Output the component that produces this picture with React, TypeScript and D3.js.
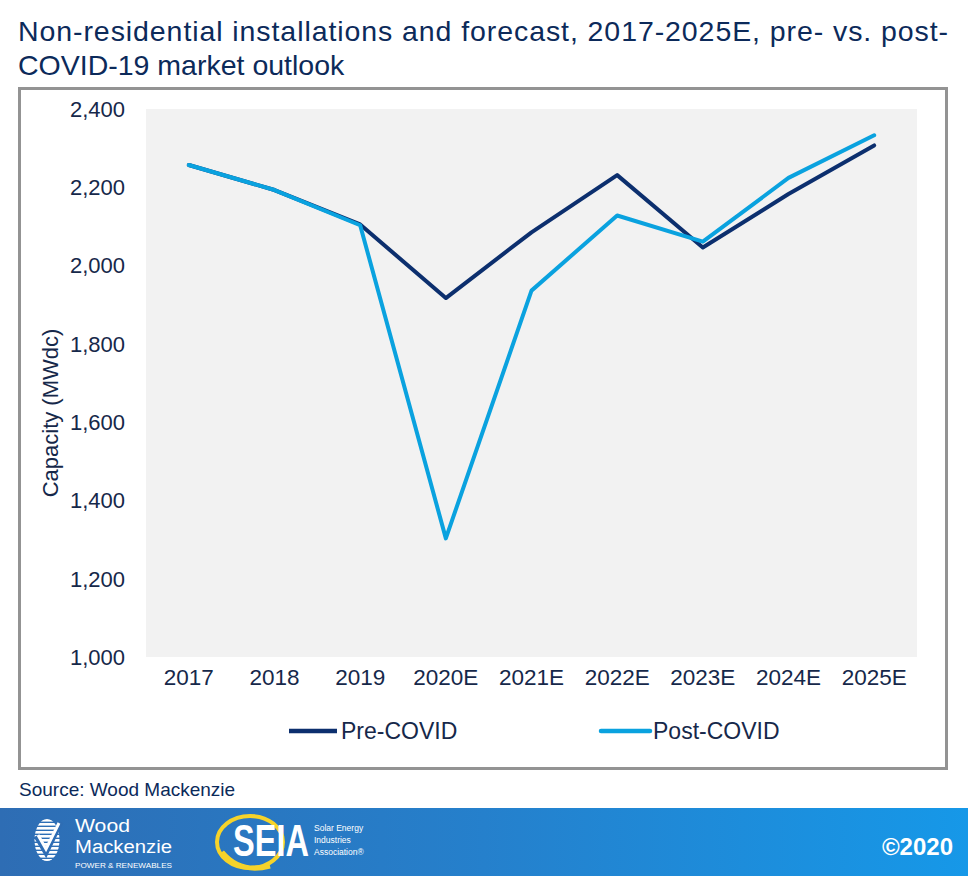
import React from "react";
import * as d3 from "d3";

const categories = ["2017", "2018", "2019", "2020E", "2021E", "2022E", "2023E", "2024E", "2025E"];
const preCovid = [2257, 2193, 2105, 1917, 2085, 2231, 2046, 2183, 2307];
const postCovid = [2257, 2193, 2103, 1303, 1936, 2128, 2061, 2224, 2333];
const yTicks = [1000, 1200, 1400, 1600, 1800, 2000, 2200, 2400];
const seriesNames = ["Pre-COVID", "Post-COVID"];

const PRE_COLOR = "#0c2f6e";
const POST_COLOR = "#0aa2df";
const TEXT = "#0c2a5a";
const TICK = "#16284a";
const FONT = "'Liberation Sans', Arial, sans-serif";

export default function App() {
  const W = 968;
  const H = 876;
  const x = d3.scaleBand<string>().domain(categories).range([146, 917]);
  const cx = (c: string) => (x(c) as number) + x.bandwidth() / 2;
  const y = d3.scaleLinear().domain([1000, 2400]).range([657, 109]);
  const line = d3
    .line<number>()
    .x((_, i) => cx(categories[i]))
    .y((d) => y(d));

  const fmt = d3.format(",");

  return (
    <svg
      width={W}
      height={H}
      viewBox={`0 0 ${W} ${H}`}
      style={{ position: "absolute", left: 0, top: 0, background: "#fff" }}
      fontFamily={FONT}
    >
      <defs>
        <linearGradient id="footerGrad" x1="0" x2="1" y1="0" y2="0">
          <stop offset="0" stopColor="#2e6db4" />
          <stop offset="0.5" stopColor="#2580cc" />
          <stop offset="1" stopColor="#1698e8" />
        </linearGradient>
        <clipPath id="globeClip">
          <ellipse cx={47} cy={840} rx={12.5} ry={21} />
        </clipPath>
      </defs>
      <rect x={0} y={0} width={W} height={H} fill="#fff" />

      {/* Title */}
      <text x={18} y={41} fontSize={28.5} fill={TEXT} textLength={930} lengthAdjust="spacing">
        Non-residential installations and forecast, 2017-2025E, pre- vs. post-
      </text>
      <text x={18} y={75} fontSize={28.5} fill={TEXT}>
        COVID-19 market outlook
      </text>

      {/* Frame */}
      <rect x={19.5} y={88.5} width={927} height={680} fill="none" stroke="#939393" strokeWidth={3} />

      {/* Plot background */}
      <rect x={146} y={109} width={771} height={548} fill="#f2f2f2" />

      {/* Y ticks */}
      {yTicks.map((t) => (
        <text key={t} x={125} y={y(t)} dy="0.36em" textAnchor="end" fontSize={22} fill={TICK}>
          {fmt(t)}
        </text>
      ))}

      {/* Y title */}
      <text transform={`translate(58,413) rotate(-90)`} textAnchor="middle" fontSize={22} fill={TICK}>
        Capacity (MWdc)
      </text>

      {/* X labels */}
      {categories.map((c) => (
        <text key={c} x={cx(c)} y={685} textAnchor="middle" fontSize={22.5} fill={TICK}>
          {c}
        </text>
      ))}

      {/* Lines */}
      <path d={line(preCovid) || ""} fill="none" stroke={PRE_COLOR} strokeWidth={4} strokeLinejoin="round" strokeLinecap="round" />
      <path d={line(postCovid) || ""} fill="none" stroke={POST_COLOR} strokeWidth={4} strokeLinejoin="round" strokeLinecap="round" />

      {/* Legend */}
      <line x1={289} x2={337} y1={731} y2={731} stroke={PRE_COLOR} strokeWidth={4.5} />
      <text x={341} y={731} dy="0.36em" fontSize={23} fill={TICK}>
        {seriesNames[0]}
      </text>
      <line x1={601} x2={650} y1={731} y2={731} stroke={POST_COLOR} strokeWidth={4.5} strokeLinecap="round" />
      <text x={653} y={731} dy="0.36em" fontSize={23} fill={TICK}>
        {seriesNames[1]}
      </text>

      {/* Source */}
      <text x={19} y={796} fontSize={19} fill={TEXT}>
        Source: Wood Mackenzie
      </text>

      {/* Footer */}
      <rect x={0} y={808} width={W} height={68} fill="url(#footerGrad)" />

      {/* Wood Mackenzie logo */}
      <g>
        <g clipPath="url(#globeClip)">
          {d3.range(0, 11).map((i) => (
            <rect key={i} x={30} y={819 + i * 4} width={36} height={2.6} fill="#fff" />
          ))}
        </g>
        <path d="M36,836 L46,853 L61,822" fill="none" stroke="#2e6db4" strokeWidth={5} />
        <path d="M38,835 L46,849 L59,823" fill="none" stroke="#fff" strokeWidth={3} />
        <text x={75} y={832} fontSize={18} fill="#fff" textLength={55} lengthAdjust="spacingAndGlyphs">Wood</text>
        <text x={75} y={853} fontSize={18} fill="#fff" textLength={97} lengthAdjust="spacingAndGlyphs">Mackenzie</text>
        <text x={75} y={868} fontSize={8} fill="#fff" textLength={97} lengthAdjust="spacingAndGlyphs">POWER &amp; RENEWABLES</text>
      </g>

      {/* SEIA logo */}
      <g>
        <ellipse cx={250} cy={842} rx={33} ry={26} fill="none" stroke="#f6d32a" strokeWidth={4} />
        <path d="M222,852 Q240,874 270,866" fill="none" stroke="#f6d32a" strokeWidth={5} />
        <text transform="translate(233,856) scale(0.74,1)" fontSize={44} fontWeight="bold" fill="#fff">SEIA</text>
        <text x={314} y={831} fontSize={8.5} fill="#fff">Solar Energy</text>
        <text x={314} y={843} fontSize={8.5} fill="#fff">Industries</text>
        <text x={314} y={855} fontSize={8.5} fill="#fff">Association®</text>
      </g>

      <text x={953} y={855} textAnchor="end" fontSize={24} fontWeight="bold" fill="#fff">
        ©2020
      </text>
    </svg>
  );
}
